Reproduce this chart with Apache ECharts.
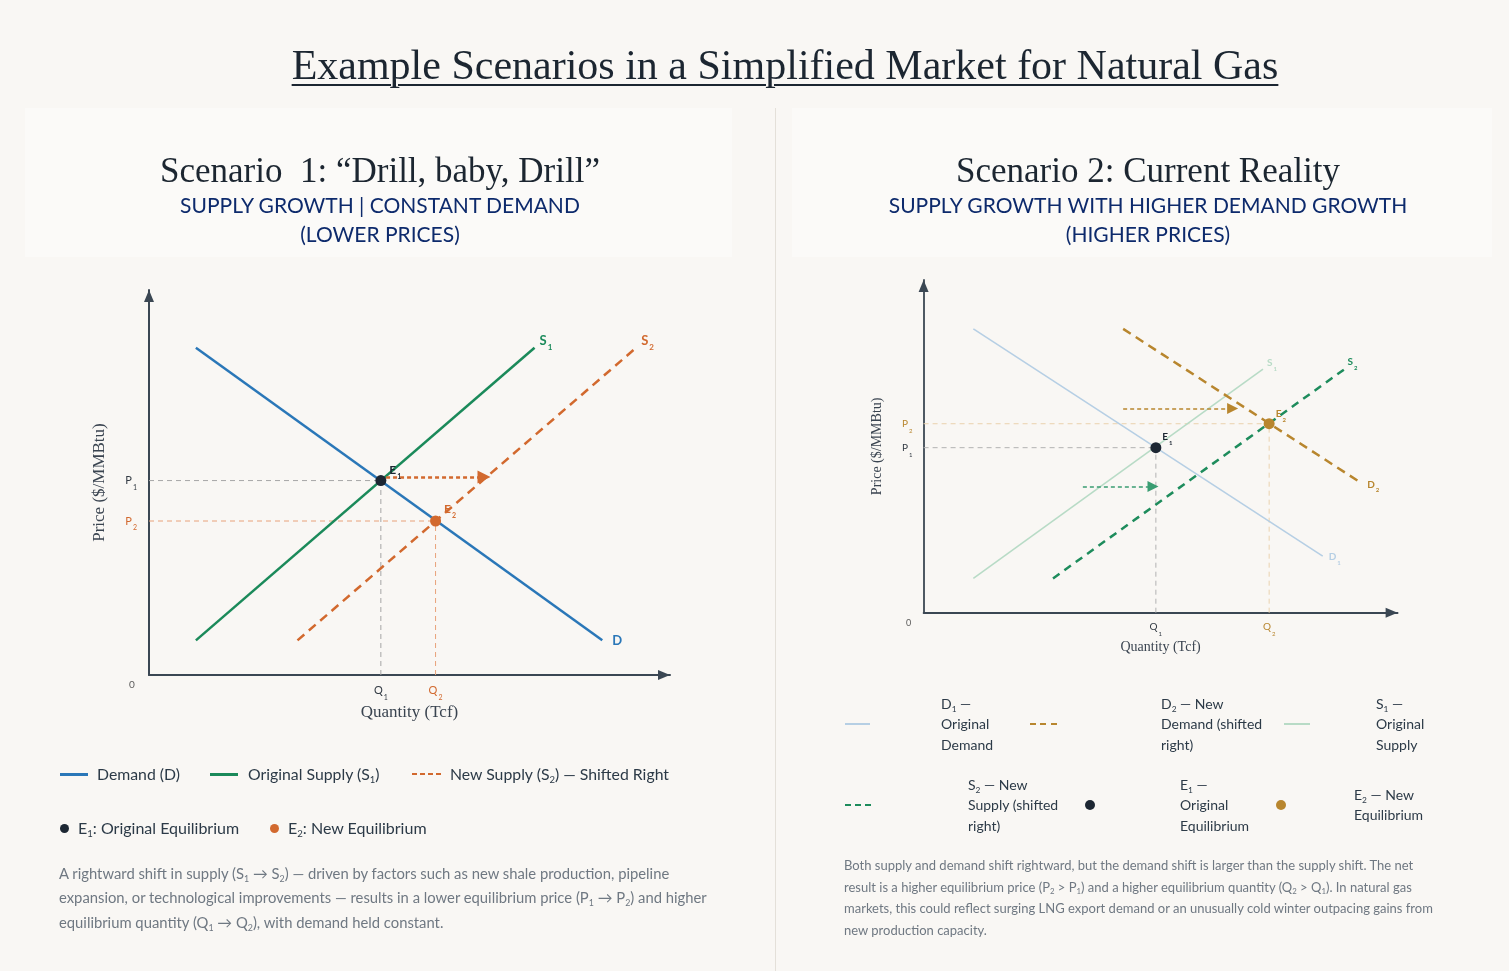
<!DOCTYPE html>
<html>
<head>
<meta charset="utf-8">
<script src="https://cdn.jsdelivr.net/npm/echarts@6/dist/echarts.min.js"></script>
<style>
html,body{margin:0;padding:0;background:#f9f7f4;width:1509px;height:971px;overflow:hidden;}
body{position:relative;font-family:Lato,"Noto Sans",sans-serif;color:#2c3a47;}
.abs{position:absolute;white-space:nowrap;}
.serif{font-family:"Liberation Serif","Times New Roman",serif;color:#1c2631;}
.navy{color:#0d2a6c;font-family:Lato,sans-serif;text-align:center;}
sub{font-size:0.6em;vertical-align:-0.3em;line-height:0;}
.panel{position:absolute;background:#fbfaf8;}
.leg{font-size:15.8px;line-height:20px;}
.leg2{font-size:14px;line-height:20.5px;}
.para{color:#6f7882;}
.swatch{position:absolute;}
.dot{position:absolute;border-radius:50%;}
#chart{position:absolute;left:0;top:0;width:1509px;height:971px;}
</style>
</head>
<body>
<div class="panel" style="left:25px;top:108px;width:707px;height:149px;"></div>
<div class="panel" style="left:792px;top:108px;width:700px;height:149px;"></div>
<div class="abs" style="left:775px;top:108px;width:1px;height:863px;background:#e4e0d9;"></div>

<div id="chart"></div>

<div class="abs serif" style="left:0;width:1570px;text-align:center;top:43.5px;font-size:42px;line-height:42px;"><span style="text-decoration:underline;text-decoration-thickness:2px;text-underline-offset:5px;">Example Scenarios in a Simplified Market for Natural Gas</span></div>

<div class="abs serif" style="left:0;width:760px;text-align:center;top:153px;font-size:35px;line-height:35px;white-space:pre;">Scenario  1: “Drill, baby, Drill”</div>
<div class="abs navy" style="left:0;width:760px;top:191.2px;font-size:21px;line-height:28.5px;">SUPPLY GROWTH | CONSTANT DEMAND<br>(LOWER PRICES)</div>

<div class="abs serif" style="left:0;width:2296px;text-align:center;top:153px;font-size:35px;line-height:35px;">Scenario 2: Current Reality</div>
<div class="abs navy" style="left:0;width:2296px;top:191.2px;font-size:21px;line-height:28.5px;">SUPPLY GROWTH WITH HIGHER DEMAND GROWTH<br>(HIGHER PRICES)</div>

<!-- left legend -->
<div class="swatch" style="left:60px;top:773px;width:28px;height:2.5px;background:#2a77b8;"></div>
<div class="abs leg" style="left:97px;top:764px;">Demand (D)</div>
<div class="swatch" style="left:210px;top:773px;width:28px;height:2.5px;background:#1b8a5a;"></div>
<div class="abs leg" style="left:248px;top:764px;">Original Supply (S<sub>1</sub>)</div>
<div class="swatch" style="left:412px;top:773px;width:29px;height:2px;background:repeating-linear-gradient(90deg,#d2692e 0 5px,transparent 5px 8px);"></div>
<div class="abs leg" style="left:450px;top:764px;">New Supply (S<sub>2</sub>) — Shifted Right</div>
<div class="dot" style="left:59.5px;top:823.5px;width:9px;height:9px;background:#1d2733;"></div>
<div class="abs leg" style="left:78px;top:818px;font-size:16px;">E<sub>1</sub>: Original Equilibrium</div>
<div class="dot" style="left:269.5px;top:823.5px;width:9px;height:9px;background:#d2692e;"></div>
<div class="abs leg" style="left:288px;top:818px;font-size:16px;">E<sub>2</sub>: New Equilibrium</div>

<div class="abs para" style="left:59px;top:860.75px;font-size:14.8px;line-height:24.5px;">A rightward shift in supply (S<sub>1</sub> → S<sub>2</sub>) — driven by factors such as new shale production, pipeline<br>expansion, or technological improvements — results in a lower equilibrium price (P<sub>1</sub> → P<sub>2</sub>) and higher<br>equilibrium quantity (Q<sub>1</sub> → Q<sub>2</sub>), with demand held constant.</div>

<!-- right legend -->
<div class="swatch" style="left:845px;top:723px;width:25px;height:2px;background:#b6cfe4;"></div>
<div class="abs leg2" style="left:941px;top:693.75px;">D<sub>1</sub> —<br>Original<br>Demand</div>
<div class="swatch" style="left:1030px;top:723px;width:27px;height:2px;background:repeating-linear-gradient(90deg,#b8862e 0 6px,transparent 6px 10.5px);"></div>
<div class="abs leg2" style="left:1161px;top:693.75px;">D<sub>2</sub> — New<br>Demand (shifted<br>right)</div>
<div class="swatch" style="left:1284px;top:723px;width:26px;height:2px;background:#b8dbc6;"></div>
<div class="abs leg2" style="left:1376px;top:693.75px;">S<sub>1</sub> —<br>Original<br>Supply</div>
<div class="swatch" style="left:845px;top:804px;width:26px;height:2px;background:repeating-linear-gradient(90deg,#1e8c5c 0 6px,transparent 6px 10px);"></div>
<div class="abs leg2" style="left:968px;top:774.75px;">S<sub>2</sub> — New<br>Supply (shifted<br>right)</div>
<div class="dot" style="left:1085px;top:800px;width:10px;height:10px;background:#1d2733;"></div>
<div class="abs leg2" style="left:1180px;top:774.75px;">E<sub>1</sub> —<br>Original<br>Equilibrium</div>
<div class="dot" style="left:1276px;top:800px;width:10px;height:10px;background:#b8862e;"></div>
<div class="abs leg2" style="left:1354px;top:784.75px;">E<sub>2</sub> — New<br>Equilibrium</div>

<div class="abs para" style="left:844px;top:855px;font-size:13px;line-height:21.7px;">Both supply and demand shift rightward, but the demand shift is larger than the supply shift. The net<br>result is a higher equilibrium price (P<sub>2</sub> &gt; P<sub>1</sub>) and a higher equilibrium quantity (Q<sub>2</sub> &gt; Q<sub>1</sub>). In natural gas<br>markets, this could reflect surging LNG export demand or an unusually cold winter outpacing gains from<br>new production capacity.</div>

<script>
// ---------- Scenario 1 data (Quantity 0-100, Price 0-100) ----------
const s1Demand  = [[9, 85], [87, 9]];
const s1Supply1 = [[9, 9], [74, 85]];
const s1Supply2 = [[28.5, 9], [93.5, 85]];
const s1E1 = [44.5, 50.5];
const s1E2 = [55, 40];
const s1Shift = [[45.5, 51.4], [64.3, 51.4]];

// ---------- Scenario 2 data ----------
const s2Demand1 = [[10.5, 85.3], [84.2, 17]];
const s2Demand2 = [[42.1, 85.3], [92.1, 39.2]];
const s2Supply1 = [[10.5, 10.3], [71.6, 73.2]];
const s2Supply2 = [[27.3, 10.3], [88.8, 73.2]];
const s2E1 = [49, 49.6];
const s2E2 = [72.9, 56.8];
const s2DemandShift = [[42.1, 61.4], [65.2, 61.4]];
const s2SupplyShift = [[33.6, 37.9], [48.4, 37.9]];

const axisMin = 0, axisMax = 100;
const FONT = 'Lato';

function rich(color, size, bold) {
  const sub = Math.round(size * 0.62);
  return {
    m: {color: color, fontSize: size, fontFamily: FONT, fontWeight: bold ? 'bold' : 'normal', lineHeight: size + 2},
    s: {color: color, fontSize: sub, fontFamily: FONT, fontWeight: bold ? 'bold' : 'normal', lineHeight: sub + 1, verticalAlign: 'bottom', padding: [0, 0, -3, 1]}
  };
}
function lbl(main, sub) { return '{m|' + main + '}' + (sub ? '{s|' + sub + '}' : ''); }

function refLine(gi, data, color) {
  return {type: 'line', xAxisIndex: gi, yAxisIndex: gi, data: data, symbol: 'none', silent: true, z: 1,
    lineStyle: {color: color, width: 1, type: [5, 4]}};
}
function curve(gi, data, color, width, dash, text, sub, size, off) {
  return {type: 'line', xAxisIndex: gi, yAxisIndex: gi, data: data, symbol: 'none', z: 3,
    lineStyle: {color: color, width: width, type: dash || 'solid'},
    endLabel: {show: true, distance: 0, offset: off, formatter: lbl(text, sub), rich: rich(color, size, true)}};
}
function arrow(gi, coords, color, width, size) {
  return {type: 'lines', coordinateSystem: 'cartesian2d', xAxisIndex: gi, yAxisIndex: gi, z: 4,
    symbol: ['none', 'triangle'], symbolSize: size,
    lineStyle: {color: color, width: width, type: [4, 3], opacity: 1},
    data: [{coords: coords}]};
}
function point(gi, p, color, size, text, sub, lsize, pos) {
  return {type: 'scatter', xAxisIndex: gi, yAxisIndex: gi, z: 6, symbolSize: size,
    itemStyle: {color: color, opacity: 1},
    data: [p],
    label: {show: true, position: pos, formatter: lbl(text, sub), rich: rich(color, lsize, true), align: 'left', verticalAlign: 'middle'}};
}
function zeroLabel(gi, pos, size) {
  return {type: 'scatter', xAxisIndex: gi, yAxisIndex: gi, symbolSize: 0, silent: true,
    data: [[axisMin, axisMin]],
    label: {show: true, position: pos, formatter: '0', color: '#333', fontSize: size, fontFamily: FONT, align: 'center', verticalAlign: 'middle'}};
}

function axisLine(w) {
  return {show: true, symbol: ['none', 'triangle'], symbolSize: [10, 12], symbolOffset: [0, -6],
    lineStyle: {color: '#3b4753', width: w}};
}

const dark = '#333b44';
const orange = '#d2692e';
const gold = '#b8862e';

function tickFmt(vals, letter) {
  return function (v) {
    for (let i = 0; i < vals.length; i++) {
      if (Math.abs(v - vals[i]) < 1e-6) return '{c' + i + '|' + letter + '}{d' + i + '|' + (i + 1) + '}';
    }
    return '';
  };
}
function tickRich(colors, size) {
  const r = {};
  colors.forEach(function (c, i) {
    r['c' + i] = {color: c, fontSize: size, fontFamily: FONT, lineHeight: size + 2};
    r['d' + i] = {color: c, fontSize: Math.round(size * 0.62), fontFamily: FONT, lineHeight: Math.round(size * 0.62) + 1, verticalAlign: 'bottom', padding: [0, 0, -4, 1]};
  });
  return r;
}

const chart = echarts.init(document.getElementById('chart'), null, {renderer: 'canvas'});
chart.setOption({
  animation: false,
  backgroundColor: 'transparent',
  grid: [
    {left: 149, top: 290, width: 521, height: 385},
    {left: 923.6, top: 280, width: 474, height: 332.7}
  ],
  xAxis: [
    {gridIndex: 0, type: 'value', min: axisMin, max: axisMax, splitLine: {show: false}, axisTick: {show: false},
      axisLine: axisLine(2),
      name: 'Quantity (Tcf)', nameLocation: 'middle', nameGap: 29,
      nameTextStyle: {fontFamily: 'Liberation Serif', fontSize: 17, color: '#3a4450'},
      axisLabel: {customValues: [s1E1[0], s1E2[0]], margin: 9, formatter: tickFmt([s1E1[0], s1E2[0]], 'Q'), rich: tickRich([dark, orange], 11)}},
    {gridIndex: 1, type: 'value', min: axisMin, max: axisMax, splitLine: {show: false}, axisTick: {show: false},
      axisLine: axisLine(1.8),
      name: 'Quantity (Tcf)', nameLocation: 'middle', nameGap: 28,
      nameTextStyle: {fontFamily: 'Liberation Serif', fontSize: 14, color: '#3a4450'},
      axisLabel: {customValues: [s2E1[0], s2E2[0]], margin: 8, formatter: tickFmt([s2E1[0], s2E2[0]], 'Q'), rich: tickRich([dark, gold], 10)}}
  ],
  yAxis: [
    {gridIndex: 0, type: 'value', min: axisMin, max: axisMax, splitLine: {show: false}, axisTick: {show: false},
      axisLine: axisLine(2),
      name: 'Price ($/MMBtu)', nameLocation: 'middle', nameGap: 41, nameRotate: 90,
      nameTextStyle: {fontFamily: 'Liberation Serif', fontSize: 17, color: '#3a4450'},
      axisLabel: {customValues: [s1E1[1], s1E2[1]], margin: 12, formatter: tickFmt([s1E1[1], s1E2[1]], 'P'), rich: tickRich([dark, orange], 11)}},
    {gridIndex: 1, type: 'value', min: axisMin, max: axisMax, splitLine: {show: false}, axisTick: {show: false},
      axisLine: axisLine(1.8),
      name: 'Price ($/MMBtu)', nameLocation: 'middle', nameGap: 39, nameRotate: 90,
      nameTextStyle: {fontFamily: 'Liberation Serif', fontSize: 14, color: '#3a4450'},
      axisLabel: {customValues: [s2E1[1], s2E2[1]], margin: 11, formatter: tickFmt([s2E1[1], s2E2[1]], 'P'), rich: tickRich([dark, gold], 10)}}
  ],
  series: [
    // Scenario 1
    refLine(0, [[axisMin, s1E1[1]], s1E1], '#a6a6a6'),
    refLine(0, [[s1E1[0], axisMin], s1E1], '#a6a6a6'),
    refLine(0, [[axisMin, s1E2[1]], s1E2], '#e8a27a'),
    refLine(0, [[s1E2[0], axisMin], s1E2], '#e8a27a'),
    curve(0, s1Demand, '#2a77b8', 2.5, null, 'D', '', 13, [10, 0]),
    curve(0, s1Supply1, '#1b8a5a', 2.5, null, 'S', '1', 13, [5, -7]),
    curve(0, s1Supply2, orange, 2.5, [9, 6], 'S', '2', 13, [5, -7]),
    arrow(0, s1Shift, orange, 2.5, [11, 13]),
    point(0, s1E1, '#1d2733', 11, 'E', '1', 12, [14, -5]),
    point(0, s1E2, orange, 11, 'E', '2', 12, [14, -6]),
    zeroLabel(0, [-17, 10], 10),
    // Scenario 2
    refLine(1, [[axisMin, s2E1[1]], s2E1], '#b2b2b2'),
    refLine(1, [[s2E1[0], axisMin], s2E1], '#b2b2b2'),
    refLine(1, [[axisMin, s2E2[1]], s2E2], '#ead2ae'),
    refLine(1, [[s2E2[0], axisMin], s2E2], '#ead2ae'),
    curve(1, s2Demand1, '#b6cfe4', 1.6, null, 'D', '1', 10, [6, 1]),
    curve(1, s2Supply1, '#b8dbc6', 1.6, null, 'S', '1', 10, [4, -6]),
    curve(1, s2Supply2, '#1e8c5c', 2.5, [8, 6], 'S', '2', 10, [3, -7]),
    curve(1, s2Demand2, gold, 2.5, [9, 6], 'D', '2', 10, [7, 2]),
    arrow(1, s2DemandShift, gold, 1.5, [10, 11]),
    arrow(1, s2SupplyShift, '#3a9d72', 1.5, [10, 11]),
    point(1, s2E1, '#1d2733', 11, 'E', '1', 10, [12, -5]),
    point(1, s2E2, gold, 11, 'E', '2', 10, [12, -4]),
    zeroLabel(1, [-15, 10], 9)
  ]
});
</script>
</body>
</html>
